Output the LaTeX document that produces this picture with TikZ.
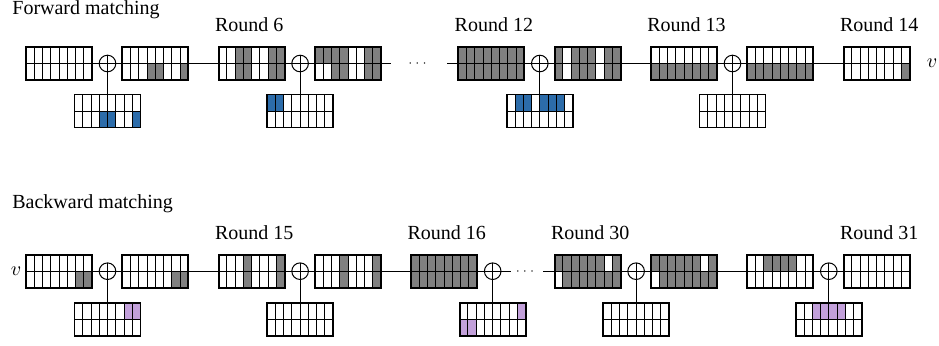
\documentclass[tikz,border=0pt]{standalone}
\usepackage{fontspec}
\setmainfont{Liberation Serif}
\usetikzlibrary{calc}

\definecolor{cw}{RGB}{255,255,255}
\definecolor{cg}{RGB}{128,128,128}
\definecolor{cb}{RGB}{44,108,170}
\definecolor{cp}{RGB}{194,160,218}

\tikzset{
  gridbox/.style={rectangle, minimum width=33pt, minimum height=16.5pt, inner sep=0pt, outer sep=0pt},
  cellline/.style={line width=0.5pt, black},
  gridframe/.style={line width=0.9pt, black},
  xorsym/.style={circle, draw, line width=0.5pt, minimum size=8.3pt, inner sep=0pt, outer sep=0pt},
  link/.style={line width=0.5pt, black},
  lbl/.style={inner sep=0pt, font=\fontsize{10}{12}\selectfont},
}

% 8x2 state grid: name, centre, top-row colours, bottom-row colours
\newcommand\cellgrid[4]{%
  \node[gridbox] (#1) at (#2) {};
  \foreach \cc [count=\i from 0] in {#3}
    \fill[fill=c\cc] ($(#1.north west)+(\i*8.25,0)$) rectangle ++(8.25,16.5);
  \foreach \cc [count=\i from 0] in {#4}
    \fill[fill=c\cc] ($(#1.west)+(\i*8.25,0)$) rectangle ++(8.25,16.5);
  \foreach \i in {1,...,7}
    \draw[cellline] ($(#1.north west)+(\i*8.25,0)$) -- ++(0,33);
  \draw[cellline] (#1.west) -- (#1.east);
  \draw[gridframe] (#1.north west) rectangle (#1.south east);
}

% XOR symbol with its key grid below
\newcommand\xorat[2]{%
  \node[xorsym] (#1) at (#2) {};
  \draw[link] (#1.north) -- (#1.south) (#1.west) -- (#1.east);
}

\newcommand\roundlabel[2]{%
  \node[lbl, anchor=base west] at ($(#1.north west)+(-4,-15.5)$) {#2};
}

\begin{document}
\begin{tikzpicture}[x=0.5pt, y=-0.5pt]
\useasboundingbox (0,0) rectangle (939,345);

% ---------------- forward matching ----------------
\node[lbl, anchor=base west] (ftitle) at (12,14.6) {Forward matching};

\cellgrid{F1}{59,63.5}{w,w,w,w,w,w,w,w}{w,w,w,w,w,w,w,w}
\xorat{FX1}{107.5,63.5}
\cellgrid{FK1}{107.5,111}{w,w,w,w,w,w,w,w}{w,w,w,b,b,w,w,b}
\cellgrid{F2}{155.3,63.5}{w,w,w,w,w,w,w,w}{w,w,w,g,g,w,w,g}

\cellgrid{R6a}{251.6,63.5}{w,w,g,g,w,w,g,g}{w,w,g,g,w,w,g,g}
\xorat{FX6}{300.1,63.5}
\cellgrid{K6}{300.1,111}{b,b,w,w,w,w,w,w}{w,w,w,w,w,w,w,w}
\cellgrid{R6b}{348,63.5}{g,g,g,g,w,w,g,g}{w,w,g,g,w,w,g,g}

\coordinate (fcut1) at (391,63.5);
\node[inner sep=0pt, font=\fontsize{6}{7}\selectfont] (fdots) at (417.5,63.5) {$\cdots$};
\coordinate (fcut2) at (447,63.5);

\cellgrid{R12a}{491.3,63.5}{g,g,g,g,g,g,g,g}{g,g,g,g,g,g,g,g}
\xorat{FX12}{539.8,63.5}
\cellgrid{K12}{539.8,111}{w,b,b,w,b,b,b,w}{w,w,w,w,w,w,w,w}
\cellgrid{R12b}{587.6,63.5}{g,w,g,g,g,w,g,g}{g,w,g,g,g,w,g,g}

\cellgrid{R13a}{684,63.5}{w,w,w,w,w,w,w,w}{g,g,g,g,g,g,g,g}
\xorat{FX13}{732.5,63.5}
\cellgrid{K13}{732.5,111}{w,w,w,w,w,w,w,w}{w,w,w,w,w,w,w,w}
\cellgrid{R13b}{780.3,63.5}{w,w,w,w,w,w,w,w}{g,g,g,g,g,g,g,g}

\cellgrid{R14}{876.6,63.5}{w,w,w,w,w,w,w,w}{w,w,w,w,w,w,w,g}
\node[lbl] (fv) at (932,63.5) {$v$};

\draw[link] (F1.east) -- (FX1.west) (FX1.east) -- (F2.west)
  (F2.east) -- (R6a.west) (R6a.east) -- (FX6.west) (FX6.east) -- (R6b.west)
  (R6b.east) -- (fcut1)
  (fcut2) -- (R12a.west) (R12a.east) -- (FX12.west) (FX12.east) -- (R12b.west)
  (R12b.east) -- (R13a.west) (R13a.east) -- (FX13.west) (FX13.east) -- (R13b.west)
  (R13b.east) -- (R14.west);
\draw[link] (FX1.south) -- (FK1.north) (FX6.south) -- (K6.north)
  (FX12.south) -- (K12.north) (FX13.south) -- (K13.north);

\roundlabel{R6a}{Round 6}
\roundlabel{R12a}{Round 12}
\roundlabel{R13a}{Round 13}
\roundlabel{R14}{Round 14}

% ---------------- backward matching ----------------
\node[lbl, anchor=base west] (btitle) at (12,208.3) {Backward matching};

\node[lbl] (bv) at (16,271.2) {$v$};
\cellgrid{B1}{59,271.2}{w,w,w,w,w,w,w,w}{w,w,w,w,w,w,g,g}
\xorat{BX1}{107.5,271.2}
\cellgrid{BK1}{107.5,319.2}{w,w,w,w,w,w,p,p}{w,w,w,w,w,w,w,w}
\cellgrid{B2}{155.3,271.2}{w,w,w,w,w,w,w,w}{w,w,w,w,w,w,g,g}

\cellgrid{R15a}{251.6,271.2}{w,w,w,g,w,w,w,g}{w,w,w,g,w,w,w,g}
\xorat{BX15}{300.1,271.2}
\cellgrid{K15}{300.1,319.2}{w,w,w,w,w,w,w,w}{w,w,w,w,w,w,w,w}
\cellgrid{R15b}{348,271.2}{w,w,w,g,w,w,w,g}{w,w,w,g,w,w,w,g}

\cellgrid{R16a}{444.2,271.2}{g,g,g,g,g,g,g,g}{g,g,g,g,g,g,g,g}
\xorat{BX16}{492.7,271.2}
\cellgrid{K16}{492.7,319.2}{w,w,w,w,w,w,w,p}{p,p,w,w,w,w,w,w}

\coordinate (bcut1) at (510.7,271.2);
\node[inner sep=0pt, font=\fontsize{6}{7}\selectfont] (bdots) at (525,271.2) {$\cdots$};
\coordinate (bcut2) at (543,271.2);

\cellgrid{R30a}{587.6,271.2}{g,g,g,g,g,g,w,g}{w,g,g,g,g,g,g,g}
\xorat{BX30}{636.1,271.2}
\cellgrid{K30}{636.1,319.2}{w,w,w,w,w,w,w,w}{w,w,w,w,w,w,w,w}
\cellgrid{R30b}{684,271.2}{g,g,g,g,g,g,w,g}{w,g,g,g,g,g,g,g}

\cellgrid{R31a}{780.3,271.2}{w,w,g,g,g,g,w,w}{w,w,w,w,w,w,w,w}
\xorat{BX31}{828.8,271.2}
\cellgrid{K31}{828.8,319.2}{w,w,p,p,p,p,w,w}{w,w,w,w,w,w,w,w}
\cellgrid{R31b}{876.6,271.2}{w,w,w,w,w,w,w,w}{w,w,w,w,w,w,w,w}

\draw[link] (B1.east) -- (BX1.west) (BX1.east) -- (B2.west)
  (B2.east) -- (R15a.west) (R15a.east) -- (BX15.west) (BX15.east) -- (R15b.west)
  (R15b.east) -- (R16a.west) (R16a.east) -- (BX16.west) (BX16.east) -- (bcut1)
  (bcut2) -- (R30a.west) (R30a.east) -- (BX30.west) (BX30.east) -- (R30b.west)
  (R30b.east) -- (R31a.west) (R31a.east) -- (BX31.west) (BX31.east) -- (R31b.west);
\draw[link] (BX1.south) -- (BK1.north) (BX15.south) -- (K15.north)
  (BX16.south) -- (K16.north) (BX30.south) -- (K30.north) (BX31.south) -- (K31.north);

\roundlabel{R15a}{Round 15}
\roundlabel{R16a}{Round 16}
\roundlabel{R30a}{Round 30}
\roundlabel{R31b}{Round 31}

\end{tikzpicture}
\end{document}
